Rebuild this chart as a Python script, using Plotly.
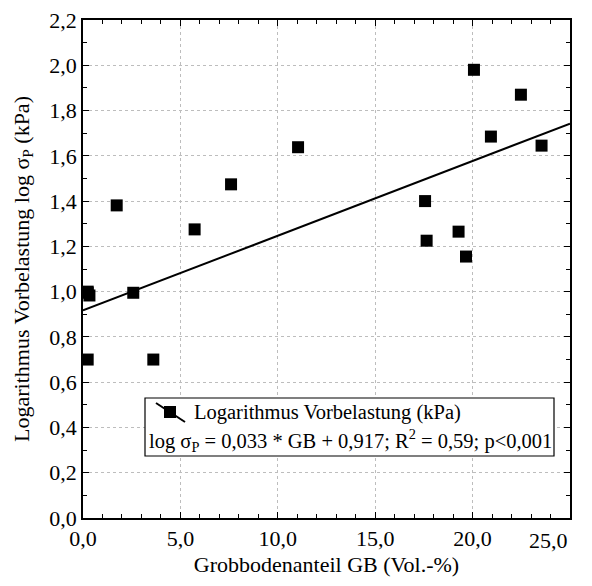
import plotly.graph_objects as go

# Data
gb = [0.24, 0.33, 0.24, 2.58, 0.24, 3.61, 1.73, 5.73, 7.6, 11.04,
      17.56, 17.64, 19.28, 19.66, 20.07, 20.94, 22.48, 23.54]
log_sp = [1.0, 0.983, 0.995, 0.995, 0.70, 0.70, 1.381, 1.275, 1.474, 1.638,
          1.400, 1.225, 1.265, 1.155, 1.980, 1.685, 1.870, 1.645]

slope = 0.033
intercept = 0.917
fit_x = [0.0, 25.0]
fit_y = [intercept + slope * v for v in fit_x]

x_ticks = [0, 5, 10, 15, 20, 25]
x_tick_labels = ["0,0", "5,0", "10,0", "15,0", "20,0", ""]
x_last_label = "25,0"  # drawn right-aligned at the axis end, as in the original
y_ticks = [0.0, 0.2, 0.4, 0.6, 0.8, 1.0, 1.2, 1.4, 1.6, 1.8, 2.0, 2.2]

FONT = "Liberation Serif, Times New Roman, serif"

fig = go.Figure()
fig.add_trace(go.Scatter(x=fit_x, y=fit_y, mode="lines",
                         line=dict(color="black", width=2), showlegend=False))
fig.add_trace(go.Scatter(x=gb, y=log_sp, mode="markers",
                         marker=dict(symbol="square", size=12, color="black",
                                     line=dict(width=0)),
                         showlegend=False))

# the page body adds an 8px margin around the figure
OFF = 8
W, H = 592 - OFF, 586 - OFF
L, R, T, B = 83 - OFF, 22, 20 - OFF, 68
pw, ph = W - L - R, H - T - B


def px(xs):
    return (xs - OFF - L) / pw


def py(ys):
    return (OFF + T + ph - ys) / ph


axis_common = dict(
    showline=True, linecolor="black", linewidth=1.5, mirror="ticks",
    ticks="inside", ticklen=6, tickcolor="black", tickwidth=1,
    showgrid=True, gridcolor="#bdbdbd", griddash="dot", gridwidth=1,
    zeroline=False, automargin=False, ticklabeloverflow="allow",
    tickfont=dict(family=FONT, size=22, color="black"),
)

fig.update_xaxes(range=[0, 25], tickvals=x_ticks, ticktext=x_tick_labels,
                 minor=dict(dtick=1, ticks="inside", ticklen=4, tickcolor="black", showgrid=False),
                 title=dict(text="Grobbodenanteil GB (Vol.-%)",
                            font=dict(family=FONT, size=22, color="black"), standoff=6),
                 **axis_common)
fig.update_yaxes(range=[0, 2.2], tickvals=y_ticks, tickformat=".1f",
                 minor=dict(dtick=0.1, ticks="inside", ticklen=4, tickcolor="black", showgrid=False),
                 title=dict(text="Logarithmus Vorbelastung log σ<sub>P</sub> (kPa)",
                            font=dict(family=FONT, size=22, color="black"), standoff=14),
                 **axis_common)

shapes = [
    dict(type="rect", xref="paper", yref="paper", x0=px(145), x1=px(554), y0=py(456), y1=py(398),
         line=dict(color="black", width=1.2), fillcolor="white", layer="above"),
    dict(type="line", xref="paper", yref="paper", x0=px(156), x1=px(185), y0=py(403), y1=py(422),
         line=dict(color="black", width=2), layer="above"),
    dict(type="rect", xref="paper", yref="paper", x0=px(164), x1=px(176), y0=py(418), y1=py(406),
         line=dict(width=0), fillcolor="black", layer="above"),
]

annotations = [
    dict(xref="paper", yref="paper", x=px(192), y=py(412), xanchor="left", yanchor="middle",
         text="Logarithmus Vorbelastung (kPa)", showarrow=False,
         font=dict(family=FONT, size=20.5, color="black")),
    dict(xref="paper", yref="paper", x=px(147), y=py(440), xanchor="left", yanchor="middle",
         text="log σ<sub>P</sub> = 0,033 * GB + 0,917; R<sup>2</sup> = 0,59; p<0,001",
         showarrow=False, font=dict(family=FONT, size=20.5, color="black")),
    dict(xref="x", yref="paper", x=x_ticks[-1], y=py(540), xanchor="right", yanchor="middle",
         text=x_last_label, showarrow=False,
         font=dict(family=FONT, size=22, color="black")),
]

fig.update_layout(
    width=W, height=H, margin=dict(l=L, r=R, t=T, b=B),
    plot_bgcolor="white", paper_bgcolor="white",
    separators=",.", shapes=shapes, annotations=annotations,
    font=dict(family=FONT, color="black"),
)

fig.write_html("out.html")
